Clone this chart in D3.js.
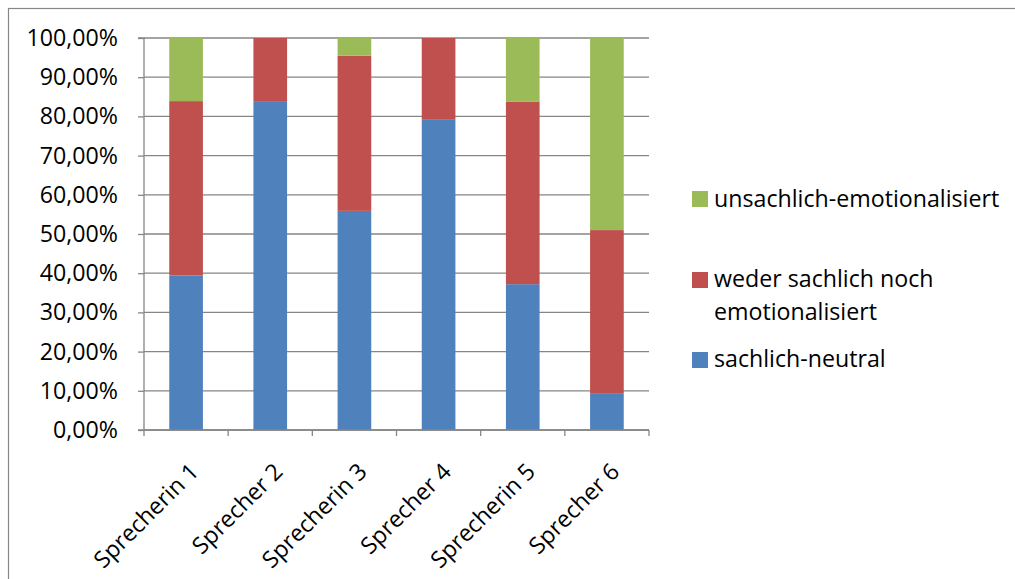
<!DOCTYPE html>
<html><head><meta charset="utf-8">
<script src="https://cdn.jsdelivr.net/npm/d3@7/dist/d3.min.js"></script>
<style>body{margin:0;background:#fff}svg{display:block}text{font-family:"Open Sans",sans-serif;fill:#000}</style>
</head><body>
<svg id="c" width="1015" height="579"></svg>
<script>
const categories = ["Sprecherin 1","Sprecher 2","Sprecherin 3","Sprecher 4","Sprecherin 5","Sprecher 6"];
const seriesNames = ["sachlich-neutral","weder sachlich noch emotionalisiert","unsachlich-emotionalisiert"];
const sachlichNeutral = [0.394,0.839,0.559,0.793,0.372,0.094];
const wederNoch       = [0.445,0.161,0.396,0.207,0.466,0.416];
const unsachlichEmo   = [0.161,0.000,0.045,0.000,0.162,0.490];
const yTicks = [0,0.1,0.2,0.3,0.4,0.5,0.6,0.7,0.8,0.9,1.0];
const colors = ["#4F81BD","#C0504D","#9BBB59"];

const svg = d3.select("#c");
const L=144,R=649,T=38,B=430;
const FS=23.2;
const x = d3.scaleBand().domain(categories).range([L,R]).paddingInner(0.6).paddingOuter(0.3);
const y = d3.scaleLinear().domain([0,1]).range([B,T]);

svg.append("rect").attr("x",8.5).attr("y",8.5).attr("width",1200).attr("height",800)
  .attr("fill","none").attr("stroke","#868686").attr("stroke-width",1.2);

// gridlines
svg.append("g").selectAll("line").data(yTicks).join("line")
  .attr("x1",L).attr("x2",R).attr("y1",d=>y(d)).attr("y2",d=>y(d))
  .attr("stroke","#868686").attr("stroke-width",1.3);

// bars
const rows = categories.map((c,i)=>({cat:c, s0:sachlichNeutral[i], s1:wederNoch[i], s2:unsachlichEmo[i]}));
const stack = d3.stack().keys(["s0","s1","s2"])(rows);
svg.append("g").selectAll("g").data(stack).join("g").attr("fill",(d,i)=>colors[i])
  .selectAll("rect").data(d=>d).join("rect")
  .attr("x",d=>x(d.data.cat)).attr("width",x.bandwidth())
  .attr("y",d=>y(d[1])).attr("height",d=>Math.max(0,y(d[0])-y(d[1])));

// y axis
const yAxis = d3.axisLeft(y).tickValues(yTicks).tickSize(6).tickPadding(20)
  .tickFormat(d=>d3.format(".2f")(d*100).replace(".",",")+"%");
const gy = svg.append("g").attr("transform",`translate(${L},0)`).call(yAxis);
gy.select(".domain").attr("stroke","#868686").attr("stroke-width",1.3).attr("d",`M-6,${T}H0V${B}H-6`);
gy.selectAll(".tick line").attr("stroke","#868686").attr("stroke-width",1.3);
gy.selectAll(".tick text").attr("font-size",FS).attr("font-family","Open Sans").attr("fill","#000");

// x axis
const gx = svg.append("g");
gx.append("line").attr("x1",L).attr("x2",R).attr("y1",B).attr("y2",B).attr("stroke","#868686").attr("stroke-width",1.3);
const bounds = categories.map(c=>x(c)-x.step()*x.paddingInner()/2).concat([R]);
gx.selectAll("line.t").data(bounds).join("line").attr("class","t")
  .attr("x1",d=>d).attr("x2",d=>d).attr("y1",B).attr("y2",B+6).attr("stroke","#868686").attr("stroke-width",1.3);
gx.selectAll("text").data(categories).join("text")
  .attr("transform",d=>`translate(${x(d)+x.bandwidth()/2+14},${473}) rotate(-45)`)
  .attr("text-anchor","end").attr("font-size",FS).text(d=>d);

// legend
const legY = [{i:2,sq:191,lines:[[206.7,"unsachlich-emotionalisiert"]]},
  {i:1,sq:272,lines:[[287.3,"weder sachlich noch"],[319.5,"emotionalisiert"]]},
  {i:0,sq:352,lines:[[367.3,"sachlich-neutral"]]}];
const lg = svg.append("g");
legY.forEach(e=>{
  lg.append("rect").attr("x",692).attr("y",e.sq).attr("width",16).attr("height",16).attr("fill",colors[e.i]);
  e.lines.forEach(l=>lg.append("text").attr("x",714).attr("y",l[0]).attr("font-size",FS).text(l[1]));
});
</script>
</body></html>
